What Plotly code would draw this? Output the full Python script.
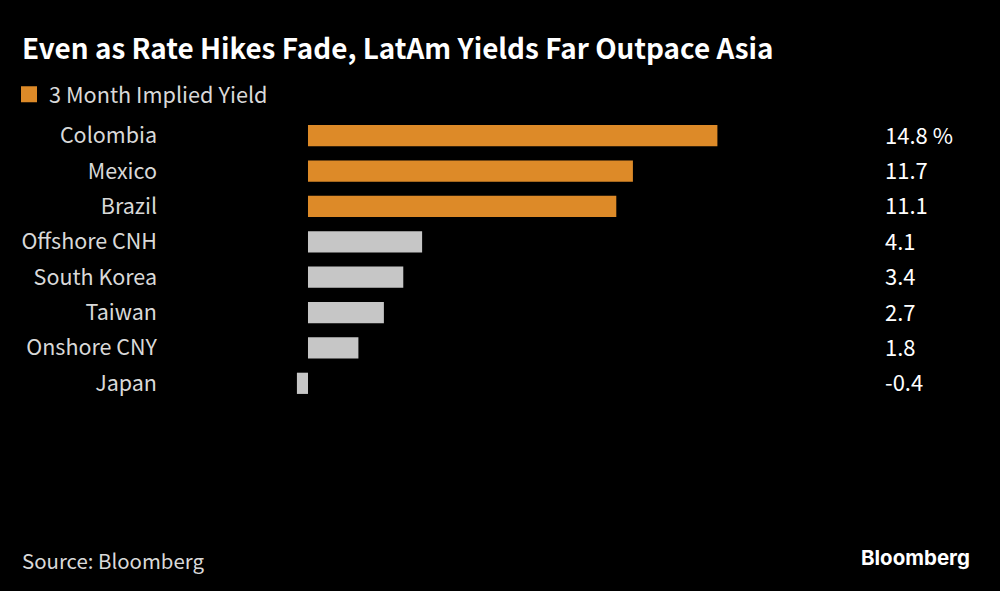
import plotly.graph_objects as go

countries = ["Colombia", "Mexico", "Brazil", "Offshore CNH", "South Korea", "Taiwan", "Onshore CNY", "Japan"]
latam = ["Colombia", "Mexico", "Brazil"]
latam_yield = [14.78, 11.73, 11.13]
asia = ["Offshore CNH", "South Korea", "Taiwan", "Onshore CNY", "Japan"]
asia_yield = [4.12, 3.44, 2.74, 1.82, -0.4]
value_labels = ["14.8 %", "11.7", "11.1", "4.1", "3.4", "2.7", "1.8", "-0.4"]

FONT = "Noto Sans CJK SC"
ORANGE = "#dd8a28"
GREY = "#c6c6c6"
TEXT = "#d9d9d9"

# plot area in page pixels, annotations below are placed from these
LEFT, RIGHT, TOP, BOTTOM = 165, 800, 118, 401
WIDTH = RIGHT - LEFT
HEIGHT = BOTTOM - TOP


def px_x(px):
    return (px - LEFT) / WIDTH


def px_y(px):
    return (BOTTOM - px) / HEIGHT


fig = go.Figure()
fig.add_trace(go.Bar(y=latam, x=latam_yield, orientation="h", showlegend=False,
                     marker=dict(color=ORANGE, line_width=0), width=0.6))
fig.add_trace(go.Bar(y=asia, x=asia_yield, orientation="h", showlegend=False,
                     marker=dict(color=GREY, line_width=0), width=0.6))
# legend entry only, bar swatches are too small
fig.add_trace(go.Scatter(x=[None], y=[None], mode="markers", name="3 Month Implied Yield",
                         marker=dict(color=ORANGE, symbol="square", size=16)))

fig.update_layout(
    width=1000,
    height=591,
    barmode="overlay",
    paper_bgcolor="black",
    plot_bgcolor="black",
    font=dict(family=FONT, color=TEXT, size=21),
    margin=dict(l=LEFT, r=1000 - RIGHT, t=TOP, b=591 - BOTTOM, autoexpand=False),
    title=dict(text="<b>Even as Rate Hikes Fade, LatAm Yields Far Outpace Asia</b>",
               x=0.022, xanchor="left", y=0.916, yanchor="middle",
               font=dict(family=FONT, size=27.85, color="white")),
    legend=dict(x=0.009, xref="container", y=0.84, yref="container", yanchor="middle", xanchor="left",
                font=dict(family=FONT, size=21.7, color=TEXT), bgcolor="rgba(0,0,0,0)"),
    showlegend=True,
    xaxis=dict(range=[-5.162, 17.762], visible=False, fixedrange=True),
    yaxis=dict(categoryorder="array", categoryarray=countries, range=[7.5, -0.5],
               showgrid=False, zeroline=False, showline=False, ticks="",
               ticklabelstandoff=7, tickfont=dict(family=FONT, size=21.5, color=TEXT)),
)

# values on the right
for name, label in zip(countries, value_labels):
    fig.add_annotation(x=px_x(885), xref="paper", y=name, yref="y", text=label,
                       showarrow=False, xanchor="left", xshift=-2, yshift=2,
                       font=dict(family=FONT, size=22, color="white"))

fig.add_annotation(x=px_x(22), xref="paper", y=px_y(560), yref="paper", yanchor="middle",
                   text="Source: Bloomberg", showarrow=False, xanchor="left", xshift=-2,
                   font=dict(family=FONT, size=20.4, color=TEXT))

fig.add_annotation(x=px_x(972), xref="paper", y=px_y(557), yref="paper", yanchor="middle",
                   text="<b>Bloomberg</b>", showarrow=False, xanchor="right",
                   font=dict(family="Inter", size=20.5, color="white"))

fig.write_html("out.html", config={"displayModeBar": False},
               post_script="document.body.style.margin = '0';")
